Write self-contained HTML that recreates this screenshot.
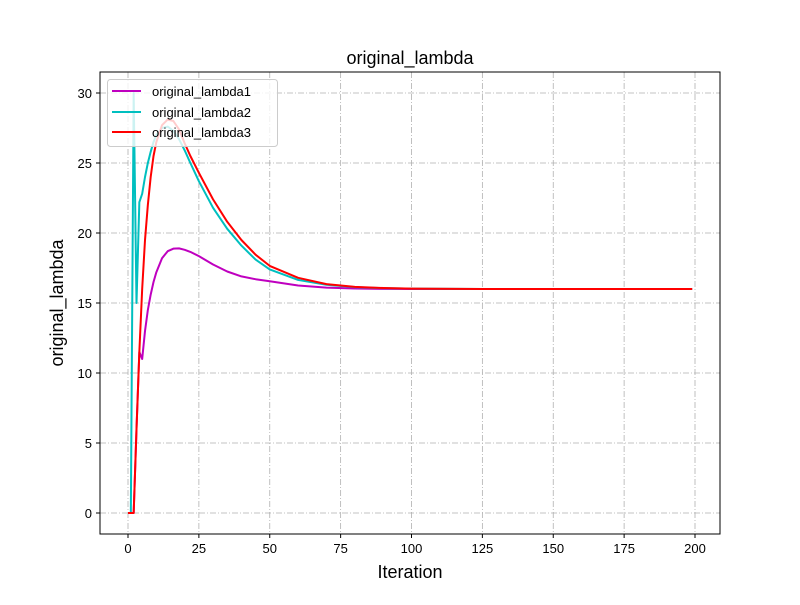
<!DOCTYPE html>
<html><head><meta charset="utf-8"><style>
body{margin:0;background:#fff}
svg{font-family:"Liberation Sans","DejaVu Sans",sans-serif}
</style></head><body>
<svg id="chart" width="800" height="600" xmlns="http://www.w3.org/2000/svg">
<rect width="800" height="600" fill="#fff"/>
<g id="grid"></g>
<g id="series"></g>
<rect x="100" y="72" width="620" height="462" fill="none" stroke="#000" stroke-width="1"/>
<g id="ticks"></g>
<text x="410" y="64" font-size="18" text-anchor="middle">original_lambda</text>
<text x="410" y="578" font-size="18" text-anchor="middle">Iteration</text>
<text transform="translate(63,303) rotate(-90)" font-size="18" text-anchor="middle">original_lambda</text>
<g>
<rect x="107.5" y="79.5" width="170" height="67" rx="3" fill="#fff" fill-opacity="0.8" stroke="#ccc"/>
<g><line x1="112" y1="91" x2="141" y2="91" stroke="#bf00bf" stroke-width="2"/><text x="152" y="96" font-size="13">original_lambda1</text></g>
<g><line x1="112" y1="112" x2="141" y2="112" stroke="#00bfbf" stroke-width="2"/><text x="152" y="117" font-size="13">original_lambda2</text></g>
<g><line x1="112" y1="132" x2="141" y2="132" stroke="#ff0000" stroke-width="2"/><text x="152" y="137" font-size="13">original_lambda3</text></g>
</g>
</svg>
<script>
const xs = [0,1,2,3,4,5,6,7,8,9,10,12,14,16,18,20,22,25,30,35,40,45,50,60,70,80,90,100,125,150,175,199];
const lambda1 = [0,0,0,6,11.5,11,13,14.5,15.6,16.5,17.2,18.2,18.7,18.88,18.9,18.8,18.65,18.35,17.75,17.25,16.9,16.7,16.55,16.25,16.1,16.04,16.01,16,16,16,16,16];
const lambda2 = [0,0,30,15,22.2,22.8,24,25,25.8,26.5,27,27.5,27.6,27.3,26.7,25.9,25.0,23.7,21.8,20.3,19.1,18.1,17.4,16.65,16.3,16.13,16.06,16.03,16,16,16,16];
const lambda3 = [0,0,0,6,11.5,16,19.5,22,24,25.5,26.5,27.7,28.1,28.0,27.4,26.4,25.5,24.3,22.4,20.8,19.5,18.45,17.65,16.8,16.35,16.15,16.07,16.03,16,16,16,16];
const xTicks = [0,25,50,75,100,125,150,175,200];
const yTicks = [0,5,10,15,20,25,30];
const NS="http://www.w3.org/2000/svg";
function X(v){return 128+v*(695-128)/200;}
function Y(v){return 513-v*14;}
const grid=document.getElementById('grid'), ticks=document.getElementById('ticks'), ser=document.getElementById('series');
function mk(t,a,p){const e=document.createElementNS(NS,t);for(const k in a)e.setAttribute(k,a[k]);p.appendChild(e);return e;}
xTicks.forEach(v=>{
  const g=mk('line',{x1:X(v),x2:X(v),y1:72,y2:534,stroke:'#b0b0b0','stroke-dasharray':'6,2,1,2','stroke-width':0.8},grid);
  
  
  const t=mk('line',{x1:X(v),x2:X(v),y1:534,y2:538,stroke:'#000'},ticks);
  
  
  const l=mk('text',{x:X(v),y:553,'font-size':13,'text-anchor':'middle'},ticks);l.textContent=v;
  
  
});
yTicks.forEach(v=>{
  const g=mk('line',{x1:100,x2:720,y1:Y(v),y2:Y(v),stroke:'#b0b0b0','stroke-dasharray':'6,2,1,2','stroke-width':0.8},grid);
  
  
  const t=mk('line',{x1:96,x2:100,y1:Y(v),y2:Y(v),stroke:'#000'},ticks);
  
  
  const l=mk('text',{x:92,y:Y(v)+5,'font-size':13,'text-anchor':'end'},ticks);l.textContent=v;
  
  
});
[[lambda1,'#bf00bf','line-lambda1'],[lambda2,'#00bfbf','line-lambda2'],[lambda3,'#ff0000','line-lambda3']].forEach(([d,c,n])=>{
  const p=mk('polyline',{points:xs.map((x,i)=>X(x)+','+Y(d[i])).join(' '),fill:'none',stroke:c,'stroke-width':2,'stroke-linejoin':'round'},ser);
  
  
});
</script>
</body></html>
